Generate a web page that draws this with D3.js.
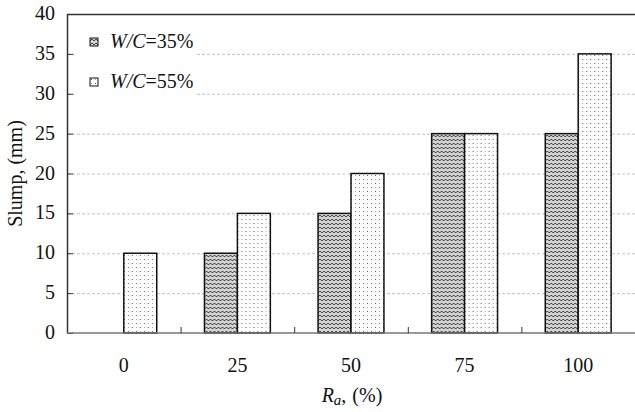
<!DOCTYPE html>
<html>
<head>
<meta charset="utf-8">
<script src="https://cdn.jsdelivr.net/npm/d3@7"></script>
<style>
  body { margin: 0; background: #fff; }
</style>
</head>
<body>
<div id="chart"></div>
<script>
// chart data
var categories = ["0", "25", "50", "75", "100"];
var series = ["35", "55"];
var wc35 = [0, 10, 15, 25, 25];
var wc55 = [10, 15, 20, 25, 35];
var yTicks = [0, 5, 10, 15, 20, 25, 30, 35, 40];

var serif = "'Liberation Serif', 'Times New Roman', serif";

var svgWidth = 635;
var svgHeight = 412;
var margin = { top: 14, right: 0, bottom: 79, left: 67 };
var width = svgWidth - margin.left - margin.right;
var height = svgHeight - margin.top - margin.bottom;

var svg = d3.select("#chart")
  .append("svg")
  .attr("width", svgWidth)
  .attr("height", svgHeight)
  .attr("font-family", serif);

// fill patterns
var defs = svg.append("defs");
var zig = defs.append("pattern")
  .attr("id", "zig")
  .attr("patternUnits", "userSpaceOnUse")
  .attr("width", 4)
  .attr("height", 4);
zig.append("rect").attr("width", 4).attr("height", 4).attr("fill", "#d4d4d4");
zig.append("path")
  .attr("d", "M0,3 L2,1 L4,3")
  .attr("fill", "none")
  .attr("stroke", "#484848")
  .attr("stroke-width", 1);

var dots = defs.append("pattern")
  .attr("id", "dots")
  .attr("patternUnits", "userSpaceOnUse")
  .attr("width", 8)
  .attr("height", 8);
dots.append("rect").attr("width", 8).attr("height", 8).attr("fill", "#fff");
dots.append("rect").attr("x", 1).attr("y", 1).attr("width", 1).attr("height", 1).attr("fill", "#555");
dots.append("rect").attr("x", 5).attr("y", 5).attr("width", 1).attr("height", 1).attr("fill", "#555");
dots.append("rect").attr("x", 5).attr("y", 1).attr("width", 1).attr("height", 1).attr("fill", "#aaa");
dots.append("rect").attr("x", 1).attr("y", 5).attr("width", 1).attr("height", 1).attr("fill", "#aaa");

var chartGroup = svg.append("g")
  .attr("transform", `translate(${margin.left}, ${margin.top})`);

var x0 = d3.scaleBand()
  .domain(categories)
  .range([0, width])
  .paddingInner(0.42)
  .paddingOuter(0.21);

var x1 = d3.scaleBand()
  .domain(series)
  .range([0, x0.bandwidth()]);

var y = d3.scaleLinear()
  .domain([0, 40])
  .range([height, 0]);

// dashed grid
chartGroup.append("g")
  .selectAll("line")
  .data(yTicks.slice(1, -1))
  .enter()
  .append("line")
  .attr("x1", 0)
  .attr("x2", width)
  .attr("y1", d => y(d) + 0.5)
  .attr("y2", d => y(d) + 0.5)
  .attr("stroke", "#c4c4c4")
  .attr("stroke-dasharray", "3,2");

// bars
var fills = { "35": "url(#zig)", "55": "url(#dots)" };
var rows = categories.map((c, i) => ({ cat: c, vals: [
  { s: "35", v: wc35[i] }, { s: "55", v: wc55[i] }] }));

var groups = chartGroup.selectAll(".grp")
  .data(rows)
  .enter()
  .append("g")
  .attr("transform", d => `translate(${x0(d.cat)}, 0)`);

groups.selectAll("rect")
  .data(d => d.vals.filter(e => e.v > 0))
  .enter()
  .append("rect")
  .attr("x", d => x1(d.s))
  .attr("y", d => y(d.v))
  .attr("width", x1.bandwidth())
  .attr("height", d => height - y(d.v))
  .attr("fill", d => fills[d.s])
  .attr("stroke", "#111")
  .attr("stroke-width", 1.5);

// frame line on top
chartGroup.append("line")
  .attr("x1", 0).attr("x2", width)
  .attr("y1", 0.5).attr("y2", 0.5)
  .attr("stroke", "#333").attr("stroke-width", 1.5);

// y axis, ticks inside
var yAxis = chartGroup.append("g")
  .call(d3.axisRight(y).tickValues(yTicks).tickSize(6).tickFormat(""));
yAxis.select(".domain").attr("stroke", "#333").attr("stroke-width", 1.5)
  .attr("d", `M0.5,0V${height}`);
yAxis.selectAll("line").attr("stroke", "#333");

chartGroup.append("g")
  .selectAll("text")
  .data(yTicks)
  .enter()
  .append("text")
  .attr("x", -12)
  .attr("y", d => y(d) + 6)
  .attr("text-anchor", "end")
  .attr("font-size", 20)
  .attr("fill", "#111")
  .text(d => d);

// x axis, separators between categories
var xAxis = chartGroup.append("g")
  .attr("transform", `translate(0, ${height})`);
xAxis.append("line")
  .attr("x1", 0).attr("x2", width)
  .attr("y1", 0).attr("y2", 0)
  .attr("stroke", "#777").attr("stroke-width", 1.5);
xAxis.selectAll(".sep")
  .data(categories.slice(1))
  .enter()
  .append("line")
  .attr("x1", d => x0(d) - x0.step() * 0.21 + 0.5)
  .attr("x2", d => x0(d) - x0.step() * 0.21 + 0.5)
  .attr("y1", 0).attr("y2", -6)
  .attr("stroke", "#333");
xAxis.selectAll(".lbl")
  .data(categories)
  .enter()
  .append("text")
  .attr("x", d => x0(d) + x0.bandwidth() / 2)
  .attr("y", 39)
  .attr("text-anchor", "middle")
  .attr("font-size", 20)
  .attr("fill", "#111")
  .text(d => d);

// axis titles
var xTitle = svg.append("text")
  .attr("x", margin.left + width / 2 + 1)
  .attr("y", 402)
  .attr("text-anchor", "middle")
  .attr("font-size", 20)
  .attr("fill", "#111");
xTitle.append("tspan").attr("font-style", "italic").text("R");
xTitle.append("tspan").attr("font-style", "italic").attr("font-size", 15).attr("dy", 3).text("a");
xTitle.append("tspan").attr("dy", -3).text(",");
xTitle.append("tspan").attr("dx", 6).text("(%)");

svg.append("text")
  .attr("transform", `translate(22, ${margin.top + height / 2}) rotate(-90)`)
  .attr("text-anchor", "middle")
  .attr("font-size", 20)
  .attr("fill", "#111")
  .text("Slump, (mm)");

// legend
var legend = chartGroup.append("g");
legend.append("rect")
  .attr("x", 8).attr("y", 8).attr("width", 122).attr("height", 85)
  .attr("fill", "#fff");
var legendItems = legend.selectAll(".item")
  .data(series)
  .enter()
  .append("g")
  .attr("transform", (d, i) => `translate(23, ${24 + i * 40})`);
legendItems.append("rect")
  .attr("width", 8).attr("height", 8)
  .attr("fill", d => fills[d])
  .attr("stroke", "#111");
var lt = legendItems.append("text")
  .attr("x", 20).attr("y", 10)
  .attr("font-size", 20)
  .attr("fill", "#111");
lt.append("tspan").attr("font-style", "italic").text("W/C");
lt.append("tspan").text(d => "=" + d + "%");
</script>
</body>
</html>
